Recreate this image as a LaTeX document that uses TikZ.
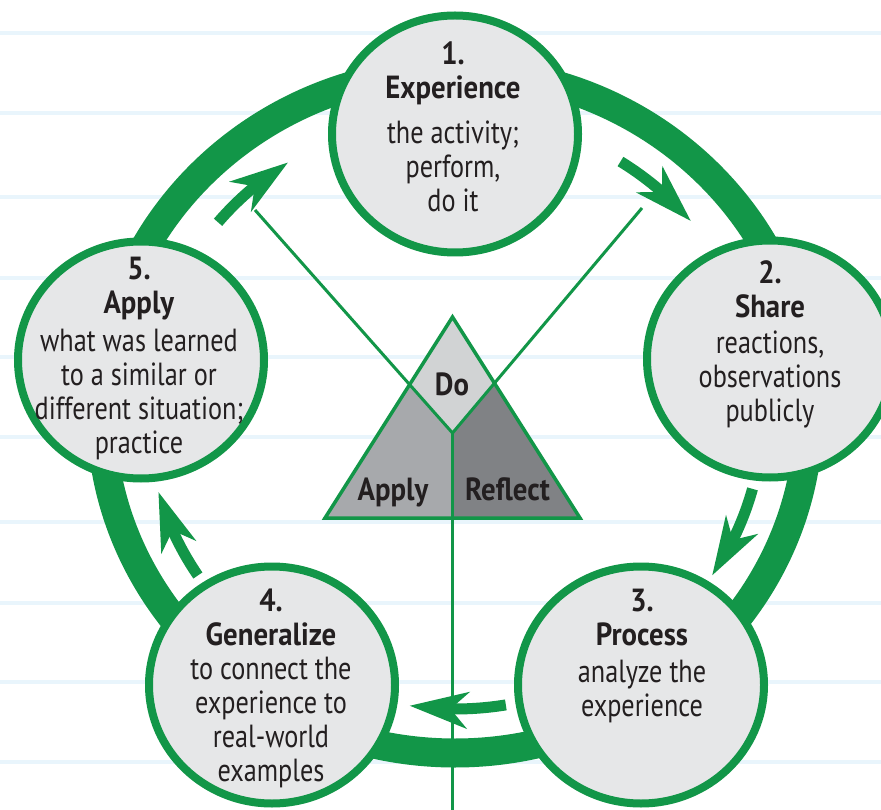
\documentclass[tikz,border=0pt]{standalone}
\usepackage{fontspec}
\setmainfont{PT Sans}[FakeStretch=0.82, BoldFont={PT Sans Bold}, BoldFeatures={FakeStretch=0.9}]
\usetikzlibrary{arrows.meta,bending,shapes.geometric}
\definecolor{grn}{RGB}{18,150,72}
\definecolor{ink}{RGB}{35,31,32}
\definecolor{stagefill}{RGB}{230,231,232}
\definecolor{dofill}{RGB}{209,211,212}
\definecolor{applyfill}{RGB}{167,169,172}
\definecolor{reflectfill}{RGB}{128,130,133}
\definecolor{rulecol}{RGB}{233,245,252}
\begin{document}
\begin{tikzpicture}[x=1pt,y=-1pt,
  stage/.style={ellipse, draw=grn, fill=stagefill, line width=8pt, minimum width=246pt, minimum height=237pt, inner sep=0pt},
  stagetext/.style={anchor=north, align=center, inner sep=0pt, text=ink, font=\fontsize{32}{34}\selectfont},
  tritext/.style={anchor=base, inner sep=0pt, text=ink, font=\fontsize{32}{34}\selectfont\bfseries},
  bigring/.style={draw=grn, line width=29pt},
  cyc/.style={draw=grn, line width=11pt, -{Stealth[length=58pt,width=36pt,inset=17pt]}},
  guide/.style={draw=grn, line width=3pt},
  ruleline/.style={draw=rulecol, line width=4.5pt}
]
\useasboundingbox (0,0) rectangle (881,810);
\fill[white] (0,0) rectangle (881,810);
% notebook rules
\foreach \yy in {33,113,197,278,357,437,522,603,682,762}
  \draw[ruleline] (0,\yy) -- (881,\yy);
% big cycle ring
\coordinate (O) at (455,412);
\draw[bigring] (O) ellipse [x radius=354pt, y radius=341pt];
% inner cycle arrows
\draw[cyc] ([shift={(O)}]57.5:308pt and 297pt) arc [start angle=57.5, end angle=40, x radius=308pt, y radius=297pt];
\draw[cyc] ([shift={(O)}]-15:308pt and 297pt) arc [start angle=-15, end angle=-33.4, x radius=308pt, y radius=297pt];
\draw[cyc] ([shift={(O)}]-80.5:308pt and 297pt) arc [start angle=-80.5, end angle=-98.5, x radius=308pt, y radius=297pt];
\draw[cyc] ([shift={(O)}]213.4:308pt and 297pt) arc [start angle=213.4, end angle=195.6, x radius=308pt, y radius=297pt];
\draw[cyc] ([shift={(O)}]140.3:308pt and 297pt) arc [start angle=140.3, end angle=122.8, x radius=308pt, y radius=297pt];
% triangle
\coordinate (A) at (452.5,317);
\coordinate (BL) at (325,518);
\coordinate (BR) at (580,518);
\coordinate (M) at (452.5,433);
\coordinate (MB) at (452.5,518);
\coordinate (L1) at (255,210);
\coordinate (R1) at (642,208);
\coordinate (B) at (452.5,810);
\coordinate (DL) at (intersection of A--BL and L1--M);
\coordinate (DR) at (intersection of A--BR and R1--M);
\fill[dofill] (A) -- (DR) -- (M) -- (DL) -- cycle;
\fill[applyfill] (DL) -- (M) -- (MB) -- (BL) -- cycle;
\fill[reflectfill] (DR) -- (BR) -- (MB) -- (M) -- cycle;
\draw[guide] (L1) -- (M);
\draw[guide] (R1) -- (M);
\draw[guide] (M) -- (B);
\draw[guide, line width=3.5pt, line join=miter] (A) -- (BL) -- (BR) -- cycle;
\node[tritext] (do) at (452,395) {Do};
\node[tritext] (apply) at (393,500) {Apply};
\node[tritext] (reflect) at (507.5,500) {Reflect};
% stages
\node[stage] (s1) at (455,134) {};
\node[stage] (s2) at (770,359) {};
\node[stage] (s3) at (641,685) {};
\node[stage] (s4) at (272,685) {};
\node[stage] (s5) at (141,360) {};
\node[stagetext] (t1) at (453,42) {\textbf{1.}\\\textbf{Experience}\\[11pt]the activity;\\perform,\\do it};
\node[stagetext] (t2) at (770,260) {\textbf{2.}\\\textbf{Share}\\[2pt]reactions,\\observations\\publicly};
\node[stagetext] (t3) at (642,589) {\textbf{3.}\\\textbf{Process}\\[3pt]analyze the\\experience};
\node[stagetext] (t4) at (271,589) {\textbf{4.}\\\textbf{Generalize}\\to connect the\\experience to\\real-world\\examples};
\node[stagetext] (t5) at (139,257) {\textbf{5.}\\\textbf{Apply}\\[4pt]what was learned\\to a similar or\\different situation;\\practice};
\end{tikzpicture}
\end{document}
